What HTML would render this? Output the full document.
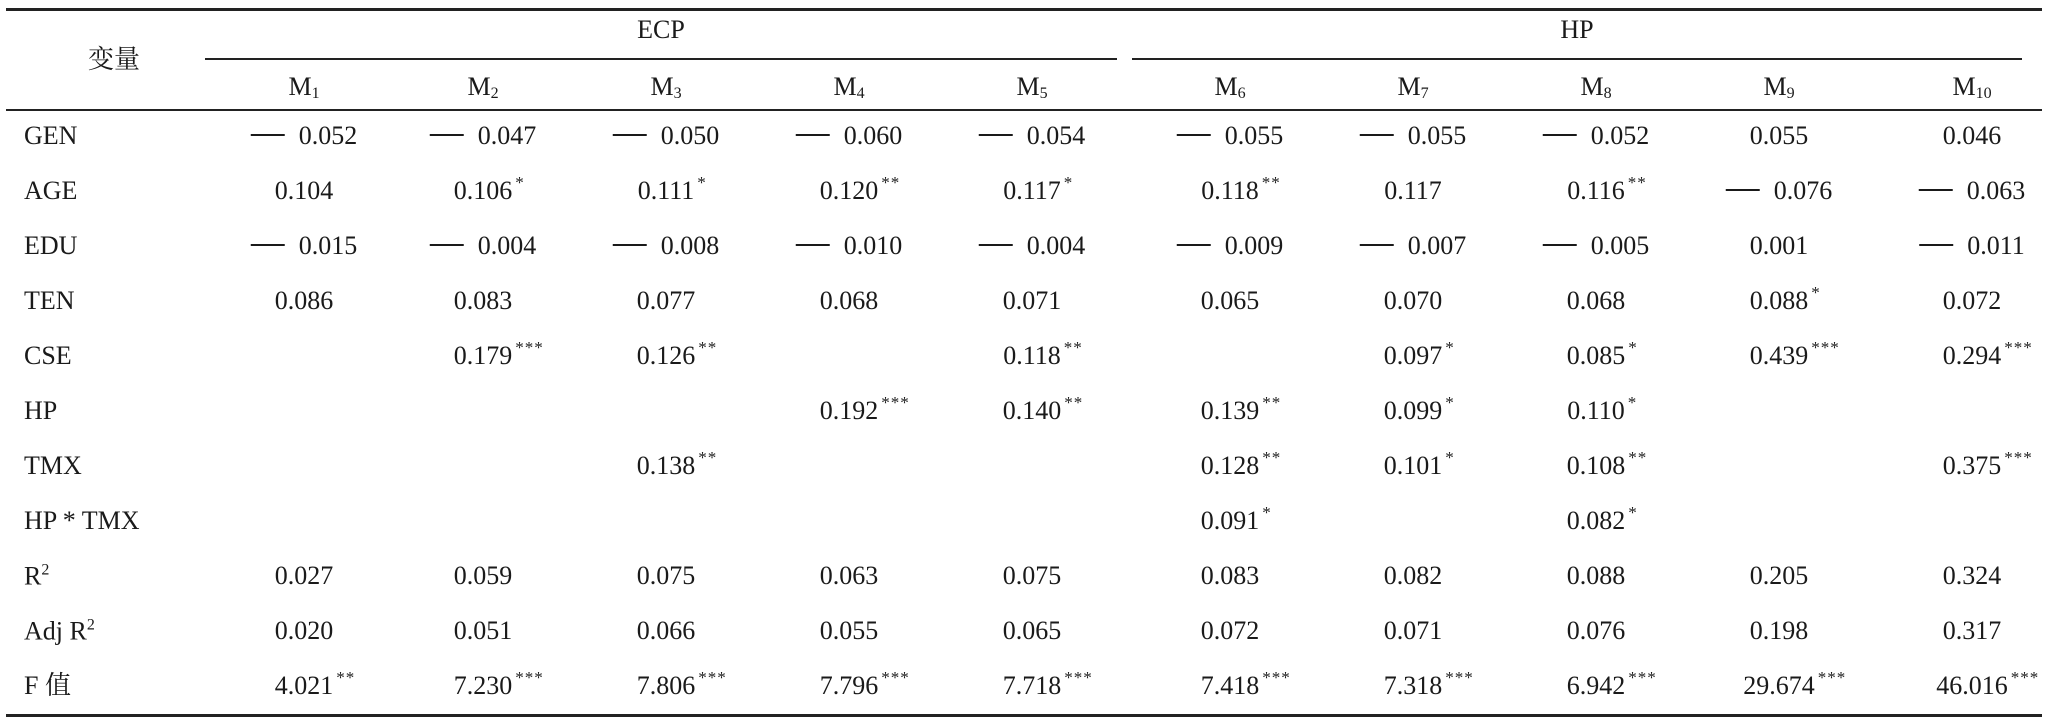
<!DOCTYPE html>
<html><head><meta charset="utf-8"><style>
html,body{margin:0;padding:0;background:#fff;}
#t{position:relative;width:2048px;height:720px;overflow:hidden;font-family:"Liberation Serif","Noto Serif CJK SC",serif;color:#1a1a1a;font-size:26px;}
.rule{position:absolute;background:#222;}
.c{position:absolute;transform:translate(-50%,-50%);white-space:nowrap;line-height:1;}
.l{position:absolute;transform:translateY(-50%);white-space:nowrap;line-height:1;}
.st{position:absolute;left:100%;top:-4px;font-size:17px;padding-left:3px;letter-spacing:1px;}
.mn{display:inline-block;width:34px;height:2px;background:#1a1a1a;vertical-align:8px;margin-right:14px;}
sub,sup{font-size:16px;}
sub{vertical-align:-3px;}
sup{vertical-align:10px;}
</style></head><body>
<div id="t">
<div class="rule" style="left:6px;width:2036px;top:8px;height:3px"></div>
<div class="rule" style="left:205px;width:912px;top:58px;height:2px"></div>
<div class="rule" style="left:1132px;width:890px;top:58px;height:2px"></div>
<div class="rule" style="left:6px;width:2036px;top:109px;height:2px"></div>
<div class="rule" style="left:6px;width:2036px;top:714px;height:3px"></div>
<div class="c" style="left:114px;top:58px;font-family:'Noto Serif CJK SC',serif">变量</div>
<div class="c" style="left:661px;top:30px">ECP</div>
<div class="c" style="left:1577px;top:30px">HP</div>
</div>
<script>
const cols=[304,483,666,849,1032,1230,1413,1596,1779,1972];
const rowY=[136,191,246,301,356,411,466,521,576,631,686];
const rowLabels=["GEN","AGE","EDU","TEN","CSE","HP","TMX","HP * TMX","R<sup>2</sup>","Adj R<sup>2</sup>","F 值"];
const cells=[
["-0.052","-0.047","-0.050","-0.060","-0.054","-0.055","-0.055","-0.052","0.055","0.046"],
["0.104","0.106*","0.111*","0.120**","0.117*","0.118**","0.117","0.116**","-0.076","-0.063"],
["-0.015","-0.004","-0.008","-0.010","-0.004","-0.009","-0.007","-0.005","0.001","-0.011"],
["0.086","0.083","0.077","0.068","0.071","0.065","0.070","0.068","0.088*","0.072"],
["","0.179***","0.126**","","0.118**","","0.097*","0.085*","0.439***","0.294***"],
["","","","0.192***","0.140**","0.139**","0.099*","0.110*","",""],
["","","0.138**","","","0.128**","0.101*","0.108**","","0.375***"],
["","","","","","0.091*","","0.082*","",""],
["0.027","0.059","0.075","0.063","0.075","0.083","0.082","0.088","0.205","0.324"],
["0.020","0.051","0.066","0.055","0.065","0.072","0.071","0.076","0.198","0.317"],
["4.021**","7.230***","7.806***","7.796***","7.718***","7.418***","7.318***","6.942***","29.674***","46.016***"]
];
const t=document.getElementById('t');
cols.forEach((x,i)=>{
  const d=document.createElement('div');
  d.className='c';d.style.left=x+'px';d.style.top='88px';
  d.innerHTML='M<sub>'+(i+1)+'</sub>';
  
  
  t.appendChild(d);
});
rowLabels.forEach((lab,r)=>{
  const d=document.createElement('div');
  d.className='l';d.style.left='24px';d.style.top=rowY[r]+'px';
  d.innerHTML=lab;
  
  
  t.appendChild(d);
  cells[r].forEach((v,c)=>{
    if(!v)return;
    const m=v.match(/^(-?)([0-9.]+)(\**)$/);
    const e=document.createElement('div');
    e.className='c';e.style.left=cols[c]+'px';e.style.top=rowY[r]+'px';
    let h='';
    if(m[1])h+='<span class="mn"></span>';
    h+=m[2];
    if(m[3])h+='<span class="st">'+m[3]+'</span>';
    e.innerHTML=h;
    
    
    t.appendChild(e);
  });
});
</script>
</body></html>
